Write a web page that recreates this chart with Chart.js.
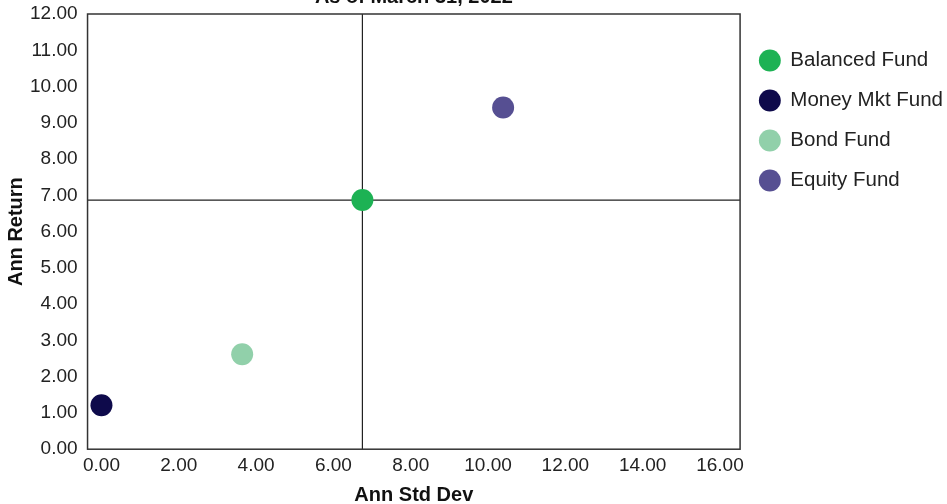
<!DOCTYPE html>
<html>
<head>
<meta charset="utf-8">
<script src="https://cdn.jsdelivr.net/npm/chart.js@4.4.1/dist/chart.umd.min.js"></script>
<style>
  html, body { margin: 0; padding: 0; background: #fff; overflow: hidden; }
  #wrap { position: relative; width: 947px; height: 504px; overflow: hidden; }
  #box { position: absolute; left: 0; top: -30px; width: 947px; height: 537px; }
</style>
</head>
<body>
<div id="wrap"><div id="box"><canvas id="grafico"></canvas></div></div>
<script>
// datos
const fundNames = ['Balanced Fund', 'Money Mkt Fund', 'Bond Fund', 'Equity Fund'];
const annStdDev = [6.75, 0.0, 3.64, 10.39];
const annReturn = [6.87, 1.21, 2.62, 9.42];
const fundColors = ['#1db254', '#0e0a4b', '#91d0aa', '#564f92'];
const xTicks = [0, 2, 4, 6, 8, 10, 12, 14, 16];
const yTicks = [0, 1, 2, 3, 4, 5, 6, 7, 8, 9, 10, 11, 12];

const tickFont = { family: "'Liberation Sans', Arial, sans-serif", size: 19 };
const boldFont = { family: "'Liberation Sans', Arial, sans-serif", size: 20, weight: 'bold' };

// lineas de cuadrante en el punto del balanced fund + marco
const cuadrantes = {
    id: 'cuadrantes',
    beforeDatasetsDraw(chart) {
        const { ctx, chartArea, scales } = chart;
        const px = scales.x.getPixelForValue(annStdDev[0]);
        const py = scales.y.getPixelForValue(annReturn[0]);
        ctx.save();
        ctx.strokeStyle = '#222';
        ctx.lineWidth = 1.2;
        ctx.beginPath();
        ctx.moveTo(px, chartArea.top);
        ctx.lineTo(px, chartArea.bottom);
        ctx.moveTo(chartArea.left, py);
        ctx.lineTo(chartArea.right, py);
        ctx.stroke();
        ctx.restore();
    },
    afterDatasetsDraw(chart) {
        const { ctx, chartArea } = chart;
        ctx.save();
        ctx.strokeStyle = '#333';
        ctx.lineWidth = 1.5;
        ctx.strokeRect(chartArea.left, chartArea.top, chartArea.right - chartArea.left, chartArea.bottom - chartArea.top);
        ctx.restore();
    }
};

const datasets = fundNames.map((name, i) => ({
    label: name,
    data: [{ x: annStdDev[i], y: annReturn[i] }],
    backgroundColor: fundColors[i],
    borderColor: fundColors[i],
    borderWidth: 0,
    pointRadius: 11,
    pointHoverRadius: 11,
    pointStyle: 'circle'
}));

const ctx = document.getElementById('grafico').getContext('2d');
new Chart(ctx, {
    type: 'scatter',
    data: { datasets: datasets },
    options: {
        responsive: true,
        maintainAspectRatio: false,
        animation: false,
        layout: { padding: { left: 0, right: -6, top: 0, bottom: 0 } },
        plugins: {
            title: {
                display: true,
                text: 'As of March 31, 2022',
                fullSize: false,
                color: '#111',
                font: boldFont,
                padding: { top: 15, bottom: 5 }
            },
            legend: {
                position: 'right',
                align: 'start',
                fullSize: false,
                title: { display: true, text: '', font: { size: 10 }, padding: { top: 2, bottom: 2.75 } },
                labels: {
                    usePointStyle: true,
                    pointStyle: 'circle',
                    boxWidth: 20.5,
                    boxHeight: 15.5,
                    padding: 19.5,
                    color: '#222',
                    font: { family: "'Liberation Sans', Arial, sans-serif", size: 20.5 }
                }
            },
            tooltip: { enabled: false }
        },
        scales: {
            x: {
                type: 'linear',
                min: -0.36,
                max: 16.52,
                afterBuildTicks: axis => { axis.ticks = xTicks.map(v => ({ value: v })); },
                grid: { display: false, drawTicks: false },
                border: { display: false },
                ticks: {
                    color: '#222',
                    font: tickFont,
                    padding: 5.5,
                    maxRotation: 0,
                    callback: v => Number(v).toFixed(2)
                },
                title: {
                    display: true,
                    text: 'Ann Std Dev',
                    color: '#111',
                    font: boldFont,
                    padding: { top: 0, bottom: 0 }
                }
            },
            y: {
                type: 'linear',
                min: 0,
                max: 12,
                afterBuildTicks: axis => { axis.ticks = yTicks.map(v => ({ value: v })); },
                grid: { display: false, drawTicks: false },
                border: { display: false },
                ticks: {
                    color: '#222',
                    font: tickFont,
                    padding: 10,
                    callback: v => Number(v).toFixed(2)
                },
                title: {
                    display: true,
                    text: 'Ann Return',
                    color: '#111',
                    font: boldFont,
                    padding: { top: 4, bottom: -8 }
                }
            }
        }
    },
    plugins: [cuadrantes]
});
</script>
</body>
</html>
